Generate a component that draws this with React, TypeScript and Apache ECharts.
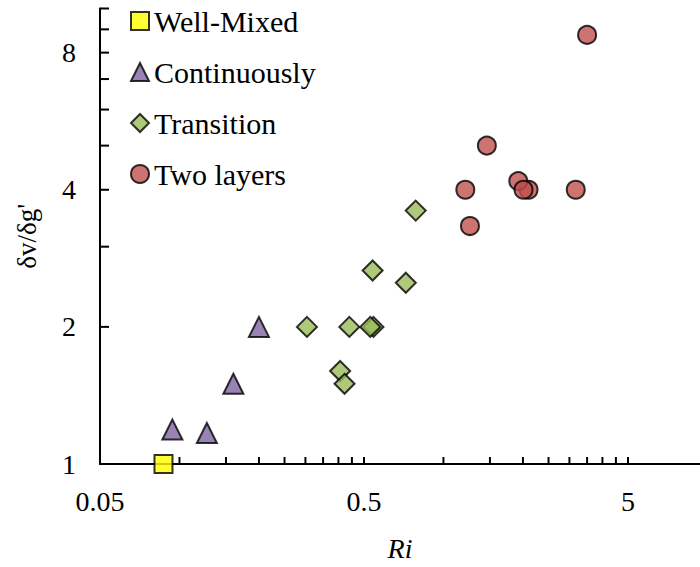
import React, { useEffect, useRef } from 'react';
import * as echarts from 'echarts';

const seriesNames = ['Well-Mixed', 'Continuously', 'Transition', 'Two layers'];
const wellMixed = [[0.087, 1.0]];
const continuously = [[0.094, 1.19], [0.127, 1.17], [0.16, 1.5], [0.2, 2.0]];
const transition = [
  [0.304, 2.0], [0.44, 2.0], [0.543, 2.0], [0.528, 2.0], [0.406, 1.6],
  [0.422, 1.5], [0.539, 2.66], [0.72, 2.5], [0.785, 3.6],
];
const twoLayers = [
  [1.21, 4.0], [1.26, 3.33], [1.46, 5.0], [2.1, 4.0], [1.92, 4.18],
  [2.01, 4.0], [3.17, 4.0], [3.5, 8.75],
];

const xTickLabels = [0.05, 0.5, 5];
const xTicks = [0.1, 0.15, 0.2, 0.25, 0.3, 0.35, 0.4, 0.45, 0.5, 1, 1.5, 2, 2.5, 3, 3.5, 4, 4.5, 5];
const yTickLabels = [1, 2, 4, 8];
const yTicks = [2, 3, 4, 5, 6, 7, 8, 9, 10];

const FONT = '"Liberation Serif", "Times New Roman", serif';

export default function App() {
  const ref = useRef<HTMLDivElement>(null);
  useEffect(() => {
    document.body.style.margin = '0';
    const chart = echarts.init(ref.current!, null, { renderer: 'svg' });
    const X_MIN = 0.05, X_MAX = 9.37, Y_MIN = 1, Y_MAX = 10;
    const markerStyle = (color: string) => ({ color, borderColor: '#000', borderWidth: 2 });
    const tickSeries = (data: number[][], dx: number, dy: number) => ({
      type: 'custom',
      silent: true,
      clip: false,
      z: 1,
      data,
      renderItem: (params: any, api: any) => {
        const p = api.coord([api.value(0), api.value(1)]);
        return {
          type: 'line',
          shape: { x1: p[0], y1: p[1], x2: p[0] + dx, y2: p[1] + dy },
          style: { stroke: '#000', lineWidth: 2 },
        };
      },
    });
    const labelSeries = (data: number[][], labels: number[], dx: number, dy: number, align: string) => ({
      type: 'custom',
      silent: true,
      clip: false,
      data,
      renderItem: (params: any, api: any) => {
        const p = api.coord([api.value(0), api.value(1)]);
        return {
          type: 'text',
          x: p[0] + dx,
          y: p[1] + dy,
          style: {
            text: String(labels[params.dataIndex]),
            fontSize: 28,
            fontFamily: FONT,
            fill: '#000',
            align,
            verticalAlign: 'middle',
          },
        };
      },
    });
    chart.setOption({
      animation: false,
      textStyle: { fontFamily: FONT },
      grid: { left: 100, right: 0, top: 8.5, bottom: 100, containLabel: false },
      legend: {
        orient: 'vertical',
        left: 125,
        top: 1,
        padding: 5,
        itemGap: 21,
        itemWidth: 18,
        itemHeight: 18,
        textStyle: { fontSize: 30, fontFamily: FONT, color: '#000' },
        itemStyle: { borderColor: '#000', borderWidth: 2 },
        data: seriesNames,
      },
      xAxis: {
        type: 'log',
        logBase: 10,
        min: X_MIN,
        max: X_MAX,
        name: 'Ri',
        nameLocation: 'middle',
        nameGap: 70,
        nameTextStyle: { fontSize: 28, fontStyle: 'italic', fontFamily: FONT, color: '#000' },
        axisLine: { show: true, lineStyle: { color: '#000', width: 2 } },
        axisTick: { show: false },
        axisLabel: { show: false },
        splitLine: { show: false },
        minorTick: { show: false },
      },
      yAxis: {
        type: 'log',
        logBase: 2,
        min: Y_MIN,
        max: Y_MAX,
        name: "δv/δg'",
        nameLocation: 'middle',
        nameGap: 60,
        nameTextStyle: { fontSize: 27, fontFamily: FONT, color: '#000' },
        axisLine: { show: true, lineStyle: { color: '#000', width: 2 } },
        axisTick: { show: false },
        axisLabel: { show: false },
        splitLine: { show: false },
        minorTick: { show: false },
      },
      series: [
        tickSeries(xTicks.map((v) => [v, Y_MIN]), 0, -7),
        tickSeries(yTicks.map((v) => [X_MIN, v]), 9, 0),
        labelSeries(xTickLabels.map((v) => [v, Y_MIN]), xTickLabels, 0, 37, 'center'),
        labelSeries(yTickLabels.map((v) => [X_MIN, v]), yTickLabels, -24, 0, 'right'),
        {
          name: seriesNames[0], type: 'scatter', symbol: 'rect', symbolSize: 18, clip: false, z: 3,
          itemStyle: markerStyle('#FFFF00'), data: wellMixed,
        },
        {
          name: seriesNames[1], type: 'scatter', symbol: 'triangle', symbolSize: 20, clip: false, z: 3,
          itemStyle: markerStyle('#8064A2'), data: continuously,
        },
        {
          name: seriesNames[2], type: 'scatter', symbol: 'diamond', symbolSize: 20, clip: false, z: 3,
          itemStyle: markerStyle('#9BBB59'), data: transition,
        },
        {
          name: seriesNames[3], type: 'scatter', symbol: 'circle', symbolSize: 18, clip: false, z: 3,
          itemStyle: markerStyle('#C0504D'), data: twoLayers,
        },
      ],
    });
    return () => chart.dispose();
  }, []);
  return <div ref={ref} style={{ width: 700, height: 567 }} />;
}
